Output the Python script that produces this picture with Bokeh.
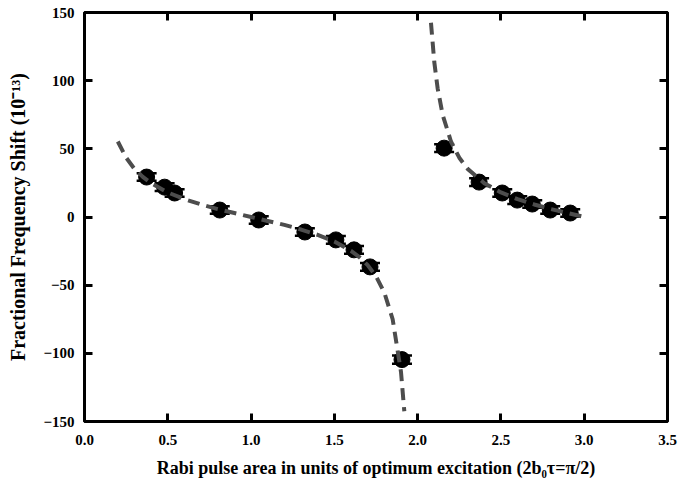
from bokeh.plotting import figure
from bokeh.models import Range1d, FixedTicker, LinearAxis, Whisker, ColumnDataSource, CustomJSTickFormatter
from bokeh.embed import file_html
from bokeh.resources import INLINE

# measured data points
data_x = [0.373, 0.481, 0.541, 0.812, 1.046, 1.323, 1.509, 1.618, 1.714, 1.906,
          2.159, 2.369, 2.508, 2.598, 2.688, 2.796, 2.916]
data_y = [29.3, 21.9, 17.6, 5.1, -2.2, -11.0, -16.8, -24.1, -36.6, -104.6,
          50.5, 25.6, 17.6, 12.4, 9.5, 5.1, 2.9]
data_err = [2.8, 2.8, 2.8, 2.8, 2.8, 2.8, 2.8, 2.8, 2.8, 3.0,
            2.8, 2.8, 2.8, 2.8, 2.8, 2.8, 2.8]

# dashed theory curve, two branches
curve1_x = [0.2, 0.25, 0.3, 0.35, 0.4, 0.5, 0.6, 0.7, 0.8, 0.9, 1.0, 1.1, 1.2,
            1.3, 1.4, 1.5, 1.6, 1.65, 1.7, 1.75, 1.8, 1.85, 1.9, 1.92]
curve1_y = [55.4, 43.5, 35.3, 29.4, 24.8, 18.0, 13.1, 9.2, 5.8, 2.9, 0.0, -2.9, -5.8,
            -9.2, -13.1, -18.0, -24.8, -29.4, -35.3, -43.5, -55.4, -75.0, -113.6, -142.5]
curve2_x = [2.08, 2.1, 2.12, 2.15, 2.2, 2.25, 2.3, 2.4, 2.5, 2.6, 2.7, 2.8, 2.9, 3.0]
curve2_y = [142.5, 113.6, 94.4, 75.0, 55.4, 43.5, 35.3, 24.8, 18.0, 13.1, 9.2, 5.8, 2.9, 0.0]

x_ticks = [0.0, 0.5, 1.0, 1.5, 2.0, 2.5, 3.0, 3.5]
y_ticks = [-150, -100, -50, 0, 50, 100, 150]

FONT = "Liberation Serif"

p = figure(width=678, height=484, output_backend="svg", toolbar_location=None,
           x_range=Range1d(0, 3.5), y_range=Range1d(-150, 150),
           min_border_left=84, min_border_right=11, min_border_top=12, min_border_bottom=63)
p.xgrid.visible = False
p.ygrid.visible = False
p.outline_line_color = "black"
p.outline_line_width = 3
p.background_fill_color = "white"
p.border_fill_color = "white"

def style_axis(ax, ticks):
    ax.ticker = FixedTicker(ticks=ticks)
    ax.axis_line_color = None
    ax.major_tick_in = 8
    ax.major_tick_out = 0
    ax.major_tick_line_width = 3
    ax.major_tick_line_color = "black"
    ax.minor_tick_line_color = None
    ax.major_label_text_font = FONT
    ax.major_label_text_font_style = "bold"
    ax.major_label_text_font_size = "15px"
    ax.major_label_text_color = "black"
    ax.axis_label_text_font = FONT
    ax.axis_label_text_font_style = "bold"
    ax.axis_label_text_color = "black"

style_axis(p.xaxis[0], x_ticks)
style_axis(p.yaxis[0], y_ticks)
p.xaxis[0].formatter = CustomJSTickFormatter(code="return tick.toFixed(1);")
p.xaxis[0].major_label_standoff = 13
p.yaxis[0].major_label_standoff = 10
p.xaxis[0].axis_label = "Rabi pulse area in units of optimum excitation (2b\u2080\u03c4=\u03c0/2)"
p.yaxis[0].axis_label = "Fractional Frequency Shift (10\u207b\u00b9\u00b3)"
p.xaxis[0].axis_label_text_font_size = "18px"
p.yaxis[0].axis_label_text_font_size = "20px"
p.xaxis[0].axis_label_standoff = 10
p.yaxis[0].axis_label_standoff = 11

top = LinearAxis()
right = LinearAxis()
style_axis(top, x_ticks)
style_axis(right, y_ticks)
for ax in (top, right):
    ax.formatter = CustomJSTickFormatter(code="return '';")
    ax.major_label_standoff = 0
p.add_layout(top, "above")
p.add_layout(right, "right")

src = ColumnDataSource(dict(x=data_x, y=data_y,
                            lo=[y - e for y, e in zip(data_y, data_err)],
                            hi=[y + e for y, e in zip(data_y, data_err)]))
w = Whisker(base="x", lower="lo", upper="hi", source=src, dimension="height",
            line_color="black", line_width=2.5)
w.upper_head.size = 20
w.lower_head.size = 20
w.upper_head.line_width = 2.5
w.lower_head.line_width = 2.5
p.add_layout(w)
p.scatter("x", "y", source=src, size=16, fill_color="black", line_color="black")

for cx, cy in ((curve1_x, curve1_y), (curve2_x, curve2_y)):
    p.line(cx, cy, line_color="#4d4d4d", line_width=4, line_dash="12 7")

open("out.html", "w").write(file_html(p, INLINE))
